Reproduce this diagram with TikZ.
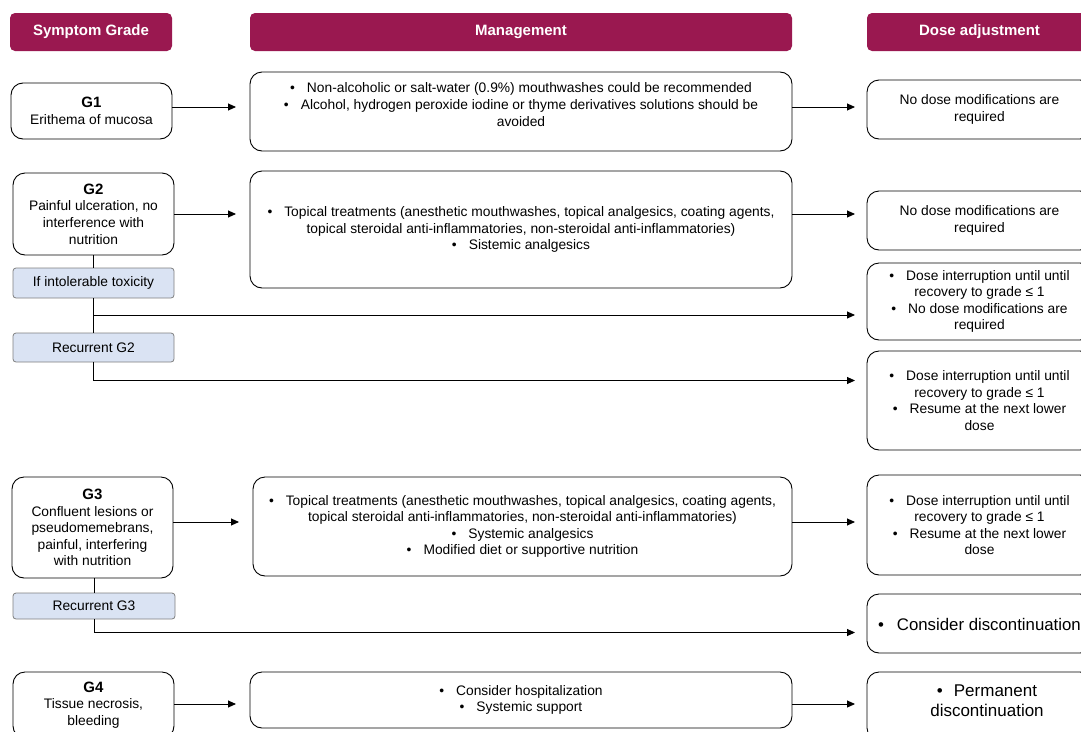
\documentclass[tikz,border=0pt]{standalone}
\usepackage{fontspec}
\setmainfont{Liberation Sans}
\usetikzlibrary{arrows.meta}
\definecolor{maroon}{HTML}{9A1850}
\definecolor{lblue}{HTML}{DAE3F3}
\definecolor{bgray}{HTML}{7F7F7F}
\newcommand{\bul}{\textbullet\hspace{12pt}}
\newcommand{\gl}[1]{{\fontsize{15}{16.6}\selectfont\bfseries #1}}
\tikzset{
  every node/.style={font=\fontsize{13.8}{16.6}\selectfont, inner sep=0pt, outer sep=0pt},
  hdr/.style={fill=maroon, rounded corners=5pt, text=white, font=\fontsize{15}{17}\selectfont\bfseries},
  gbox/.style={draw=black, line width=0.9pt, rounded corners=12pt, align=center},
  bbox/.style={draw=bgray, line width=0.8pt, fill=lblue, rounded corners=3pt, align=center},
  txt/.style={align=center},
  arr/.style={line width=0.9pt, -{Triangle[length=8pt,width=7pt]}},
  ln/.style={line width=0.9pt},
}
\begin{document}
\begin{tikzpicture}[x=1pt,y=-1pt]
\useasboundingbox (0,0) rectangle (1081,731);
\clip (0,0) rectangle (1081,731);
% headers
\node[hdr, minimum width=162pt, minimum height=38pt] (hs) at (91,32) {Symptom Grade};
\node[hdr, minimum width=542pt, minimum height=38pt] (hm) at (521,32) {Management};
\node[hdr, minimum width=225pt, minimum height=38pt] (hd) at (979.5,32) {Dose adjustment};

% G1 row
\node[gbox, minimum width=161pt, minimum height=56pt] (g1) at (91.5,111) {\gl{G1}\\Erithema of mucosa};
\node[gbox, minimum width=542pt, minimum height=79pt] (m1) at (521,111.5) {};
\node[txt] (m1t) at (521,104.5) {\bul Non-alcoholic or salt-water (0.9\%) mouthwashes could be recommended\\\bul Alcohol, hydrogen peroxide iodine or thyme derivatives solutions should be\\avoided};
\node[gbox, minimum width=225pt, minimum height=59pt] (d1) at (979.5,109.5) {No dose modifications are\\required};

% G2 row
\node[gbox, minimum width=161pt, minimum height=82pt] (g2) at (93.5,214) {\gl{G2}\\Painful ulceration, no\\interference with\\nutrition};
\node[gbox, minimum width=542pt, minimum height=117pt] (m2) at (521,229.5) {\bul Topical treatments (anesthetic mouthwashes, topical analgesics, coating agents,\\topical steroidal anti-inflammatories, non-steroidal anti-inflammatories)\\\bul Sistemic analgesics};
\node[gbox, minimum width=225pt, minimum height=59pt] (d2) at (979.5,220.5) {No dose modifications are\\required};
\node[bbox, minimum width=161pt, minimum height=30pt] (it) at (93.5,283) {If intolerable toxicity};
\node[bbox, minimum width=161pt, minimum height=29pt] (r2) at (93.5,347.5) {Recurrent G2};
\node[gbox, minimum width=225pt, minimum height=77pt] (d3) at (979.5,301.5) {\bul Dose interruption until until\\recovery to grade ≤ 1\\\bul No dose modifications are\\required};
\node[gbox, minimum width=225pt, minimum height=99pt] (d4) at (979.5,400.5) {\bul Dose interruption until until\\recovery to grade ≤ 1\\\bul Resume at the next lower\\dose};

% G3 row
\node[gbox, minimum width=161pt, minimum height=101pt] (g3) at (92.5,527.5) {\gl{G3}\\Confluent lesions or\\pseudomemebrans,\\painful, interfering\\with nutrition};
\node[gbox, minimum width=539pt, minimum height=99pt] (m3) at (522.5,526.5) {\bul Topical treatments (anesthetic mouthwashes, topical analgesics, coating agents,\\topical steroidal anti-inflammatories, non-steroidal anti-inflammatories)\\\bul Systemic analgesics\\\bul Modified diet or supportive nutrition};
\node[gbox, minimum width=225pt, minimum height=100pt] (d5) at (979.5,525) {\bul Dose interruption until until\\recovery to grade ≤ 1\\\bul Resume at the next lower\\dose};
\node[bbox, minimum width=162pt, minimum height=26pt] (r3) at (94,606) {Recurrent G3};
\node[gbox, minimum width=225pt, minimum height=59pt] (d6) at (979.5,623.5) {};
\node[anchor=west, font=\fontsize{16.8}{19}\selectfont] (d6t) at (878,624) {\textbullet\hspace{13pt}Consider discontinuation};

% G4 row
\node[gbox, minimum width=161pt, minimum height=66pt] (g4) at (93.5,705) {\gl{G4}\\Tissue necrosis,\\bleeding};
\node[gbox, minimum width=542pt, minimum height=56pt] (m4) at (521,700) {\bul Consider hospitalization\\\bul Systemic support};
\node[gbox, minimum width=225pt, minimum height=68pt] (d7) at (979.5,706) {};
\node[txt, font=\fontsize{17}{20}\selectfont] (d7t) at (987,701) {\textbullet\hspace{11pt}Permanent\\discontinuation};

% horizontal arrows
\draw[arr, shorten >=14pt] (g1.east |- 0,107) -- (m1.west |- 0,107);
\draw[arr, shorten >=12pt] (m1.east |- 0,107) -- (d1.west |- 0,107);
\draw[arr, shorten >=14pt] (g2.east |- 0,214) -- (m2.west |- 0,214);
\draw[arr, shorten >=12pt] (m2.east |- 0,214) -- (d2.west |- 0,214);
\draw[arr, shorten >=14pt] (g3.east |- 0,522) -- (m3.west |- 0,522);
\draw[arr, shorten >=12pt] (m3.east |- 0,522) -- (d5.west |- 0,522);
\draw[arr, shorten >=14pt] (g4.east |- 0,704) -- (m4.west |- 0,704);
\draw[arr, shorten >=12pt] (m4.east |- 0,704) -- (d7.west |- 0,704);

% branch lines
\coordinate (c1) at (93.5,315);
\coordinate (e1) at (855,315);
\coordinate (c2) at (93.5,380.5);
\coordinate (e2) at (855,380.5);
\coordinate (c3) at (94,632.5);
\coordinate (e3) at (855,632.5);
\draw[ln] (g2.south) -- (it.north);
\draw[ln] (it.south) -- (r2.north);
\draw[arr] (c1) -- (e1);
\draw[arr] (r2.south) -- (c2) -- (e2);
\draw[ln] (g3.south -| r3.north) -- (r3.north);
\draw[arr] (r3.south) -- (c3) -- (e3);
\end{tikzpicture}
\end{document}
